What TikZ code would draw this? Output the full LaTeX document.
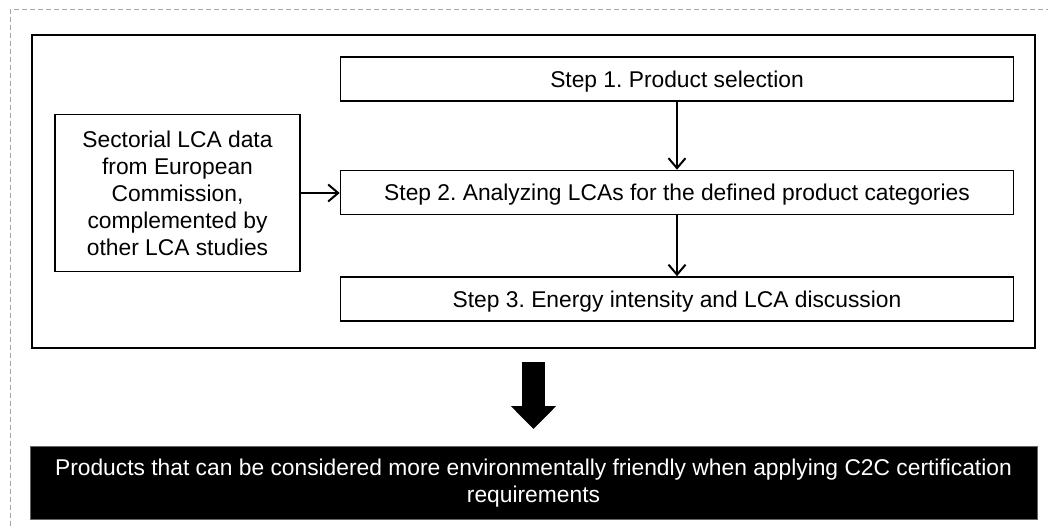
\documentclass[tikz,border=0pt]{standalone}
\usepackage{fontspec}
\setmainfont{Liberation Sans}
\usetikzlibrary{arrows.meta,calc,positioning}
\frenchspacing
\newcommand{\boxfont}{\fontsize{22.8}{27}\selectfont}
\tikzset{
  stepbox/.style={draw=black,line width=1.6pt,minimum width=673pt,minimum height=44pt,inner sep=0pt,text depth=0pt,align=center,font=\boxfont},
  srcbox/.style={draw=black,line width=1.6pt,minimum width=245pt,minimum height=157pt,inner sep=0pt,align=center,font=\boxfont},
  framebox/.style={draw=black,line width=2pt,minimum width=1003pt,minimum height=313pt,inner sep=0pt},
  resultbox/.style={draw=black!60,fill=black,text=white,line width=1pt,minimum width=1007pt,minimum height=73pt,inner sep=0pt,align=center,font=\boxfont},
  flowarrow/.style={-{Straight Barb[length=10pt,width=17pt]},line width=2pt,draw=black},
  bigarrow/.style={-{Triangle[length=23pt,width=44pt]},line width=23pt,draw=black},
  dashborder/.style={draw=black!35,dashed,dash pattern=on 5pt off 3pt,line width=1pt}
}

\begin{document}
\begin{tikzpicture}[x=1pt,y=-1pt]
  \useasboundingbox (0,0) rectangle (1048,526);
  \draw[dashborder] (10,526)--(10,10)--(1048,10);
  % method frame and its steps
  \node[framebox] (frame) at (533.5,191.5) {};
  \node[stepbox] (step1) at (677,79) {Step 1. Product selection};
  \node[stepbox] (step2) at (677,192.5) {Step 2. Analyzing LCAs for the defined product categories};
  \node[stepbox] (step3) at (677,299) {Step 3. Energy intensity and LCA discussion};
  \node[srcbox] (src) at (177.5,193) {Sectorial LCA data\\from European\\Commission,\\complemented by\\other LCA studies};
  \draw[flowarrow] (step1.south)--(step2.north);
  \draw[flowarrow] (step2.south)--(step3.north);
  \draw[flowarrow] (src.east)--(src.east -| step2.west);
  % outcome
  \node[resultbox] (result) at (533.5,483) {Products that can be considered more environmentally friendly when applying C2C certification\\requirements};
  \draw[bigarrow] ($(frame.south)+(0,13)$)--($(result.north)+(0,-17)$);
\end{tikzpicture}
\end{document}
